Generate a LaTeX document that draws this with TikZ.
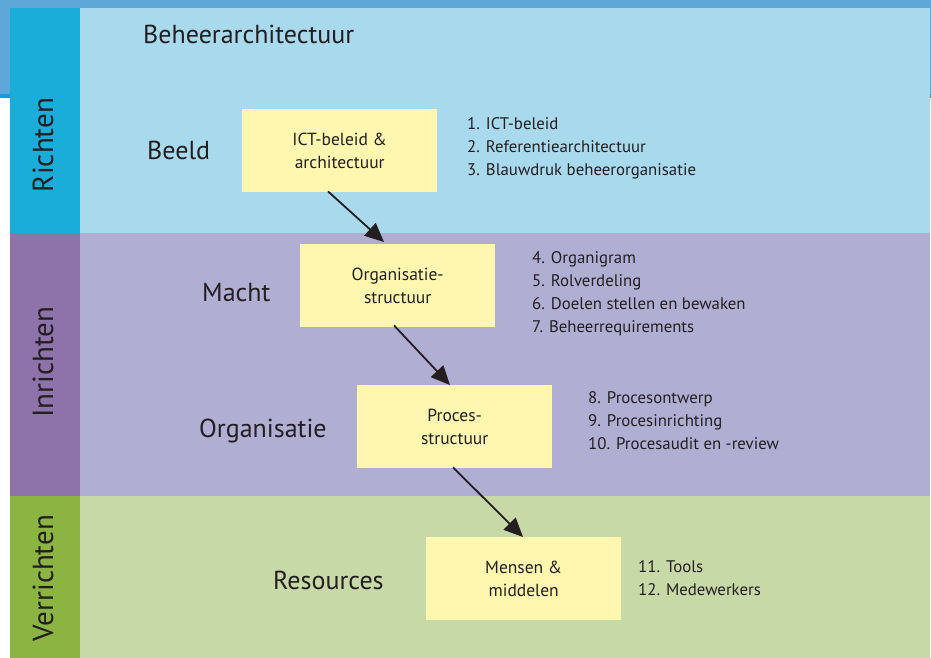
\documentclass[tikz,border=0pt]{standalone}
\usepackage{fontspec}
\setmainfont{PT Sans}
\usetikzlibrary{arrows.meta,calc}
\definecolor{hdrblue}{HTML}{5DA8D9}
\definecolor{hdrline}{HTML}{149ED8}
\definecolor{colA}{HTML}{1BADDA}
\definecolor{bgA}{HTML}{A9D9EC}
\definecolor{colB}{HTML}{8D73AA}
\definecolor{bgB}{HTML}{B0AED3}
\definecolor{colC}{HTML}{8CB443}
\definecolor{bgC}{HTML}{C8D9A8}
\definecolor{boxyellow}{HTML}{FFF6B0}
\definecolor{ink}{HTML}{231F20}
\tikzset{
  stepbox/.style={fill=boxyellow, draw=none, minimum width=195pt, minimum height=83pt, anchor=north west, inner sep=0pt,
     align=center, font=\fontsize{17.5}{23}\selectfont, text=ink},
  biglabel/.style={anchor=base west, inner sep=0pt, font=\fontsize{26}{30}\selectfont, text=ink},
  sidelabel/.style={rotate=90, inner sep=0pt, font=\fontsize{29}{32}\selectfont, text=ink},
  itemlist/.style={anchor=base west, inner sep=0pt, align=left, font=\fontsize{16.8}{23}\selectfont, text=ink},
  flow/.style={draw=ink, line width=1.8pt, -{Triangle[length=19pt,width=17pt]}},
}
\begin{document}
\begin{tikzpicture}[x=1pt,y=-1pt]
\useasboundingbox (0,0) rectangle (931,658);
% header band
\fill[white] (0,0) rectangle (931,658);
\fill[hdrblue] (0,0) rectangle (931,94);
\fill[hdrline] (0,94) rectangle (931,98);
% bands
\fill[bgA] (10,8) rectangle (930,233);
\fill[colA] (10,8) rectangle (80,233);
\fill[bgB] (10,233) rectangle (930,496);
\fill[colB] (10,233) rectangle (80,496);
\fill[bgC] (10,496) rectangle (930,658);
\fill[colC] (10,496) rectangle (80,658);
% side labels
\node[sidelabel] (richten) at (43,145) {Richten};
\node[sidelabel] (inrichten) at (43,362) {Inrichten};
\node[sidelabel] (verrichten) at (43,578) {Verrichten};
% titles
\node[biglabel] (title) at (143,44) {Beheerarchitectuur};
\node[biglabel] (beeld) at (147,159) {Beeld};
\node[biglabel] (macht) at (202,301) {Macht};
\node[biglabel] (organisatie) at (199,437) {Organisatie};
\node[biglabel] (resources) at (273,589) {Resources};
% boxes
\node[stepbox] (b1) at (242,109) {ICT-beleid \&\\architectuur};
\node[stepbox] (b2) at (300,244) {Organisatie-\\structuur};
\node[stepbox] (b3) at (357,385) {Proces-\\structuur};
\node[stepbox] (b4) at (426,537) {Mensen \&\\middelen};
% lists (base = last line)
\node[itemlist] (l1) at (467,175) {1. ICT-beleid\\2. Referentiearchitectuur\\3. Blauwdruk beheerorganisatie};
\node[itemlist] (l2) at (532,332) {4. Organigram\\5. Rolverdeling\\6. Doelen stellen en bewaken\\7. Beheerrequirements};
\node[itemlist] (l3) at (588,449) {8. Procesontwerp\\9. Procesinrichting\\10. Procesaudit en -review};
\node[itemlist] (l4) at (638,595) {11. Tools\\12. Medewerkers};
% arrows
\draw[flow] ($(b1.south west)+(86,-1)$) -- ($(b2.north west)+(84,-2)$);
\draw[flow] ($(b2.south west)+(94,-2)$) -- ($(b3.north west)+(93,0)$);
\draw[flow] ($(b3.south west)+(96,-1)$) -- ($(b4.north west)+(97,0)$);
\end{tikzpicture}
\end{document}
